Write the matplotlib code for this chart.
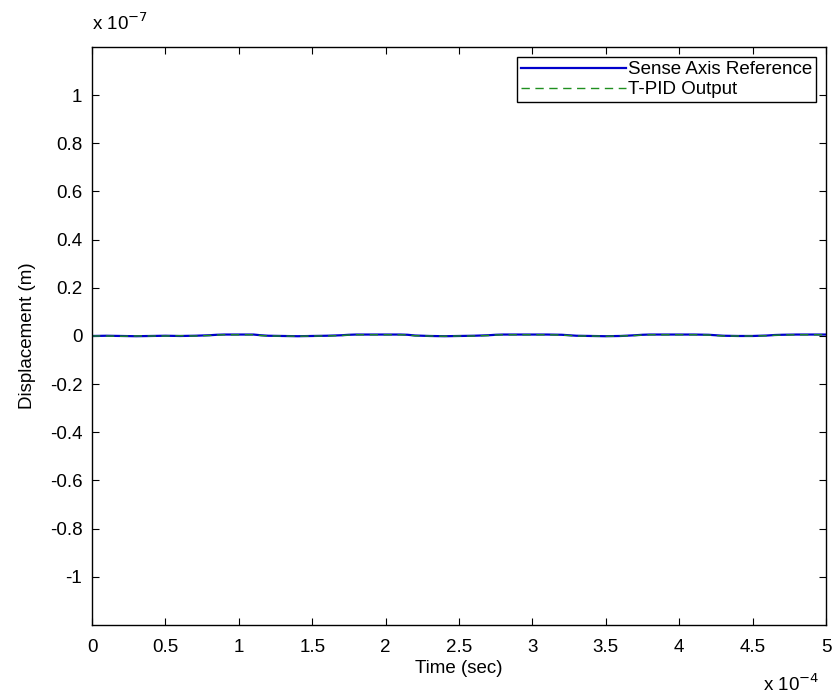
import matplotlib
matplotlib.use('Agg')
import matplotlib.pyplot as plt

plt.rcParams['font.family'] = ['Liberation Sans', 'DejaVu Sans']

# time in units of 1e-4 s, displacement in units of 1e-7 m
time_e4 = [0.0, 0.1, 0.2, 0.3, 0.4, 0.5, 0.6, 0.7, 0.8, 0.85, 0.9, 1.0, 1.1, 1.15,
           1.2, 1.3, 1.4, 1.5, 1.6, 1.7, 1.75, 1.8, 1.9, 2.0, 2.1, 2.15, 2.2,
           2.3, 2.4, 2.5, 2.6, 2.7, 2.75, 2.8, 2.9, 3.0, 3.1, 3.2, 3.25, 3.3,
           3.4, 3.5, 3.6, 3.7, 3.75, 3.8, 3.9, 4.0, 4.1, 4.2, 4.25, 4.3, 4.4,
           4.5, 4.6, 4.65, 4.7, 4.8, 4.9, 5.0]
reference_e7 = [0.0, 0.001, 0.0, -0.001, 0.0, 0.001, 0.0, 0.001, 0.003, 0.005, 0.006, 0.006,
                0.006, 0.003, 0.001, 0.0, -0.001, 0.0, 0.001, 0.003, 0.005, 0.006, 0.006,
                0.006, 0.006, 0.005, 0.002, 0.0, -0.001, 0.0, 0.001, 0.003, 0.005, 0.006,
                0.006, 0.006, 0.006, 0.005, 0.003, 0.001, 0.0, -0.001, 0.0, 0.003, 0.005,
                0.006, 0.006, 0.006, 0.006, 0.005, 0.003, 0.001, 0.0, 0.0, 0.002, 0.004,
                0.005, 0.006, 0.006, 0.006]
tpid_e7 = [0.0, 0.0, -0.001, 0.0, 0.0, 0.0, 0.001, 0.0, 0.002, 0.004, 0.005, 0.005,
           0.005, 0.002, 0.0, 0.0, -0.001, 0.0, 0.0, 0.002, 0.004, 0.005, 0.005,
           0.005, 0.005, 0.004, 0.001, 0.0, -0.001, 0.0, 0.0, 0.002, 0.004, 0.005,
           0.005, 0.005, 0.005, 0.004, 0.002, 0.0, 0.0, -0.001, 0.0, 0.002, 0.004,
           0.005, 0.005, 0.005, 0.005, 0.004, 0.002, 0.0, 0.0, 0.0, 0.001, 0.003,
           0.004, 0.005, 0.005, 0.005]

xticks = [0, 0.5, 1, 1.5, 2, 2.5, 3, 3.5, 4, 4.5, 5]
xtick_labels = ['0', '0.5', '1', '1.5', '2', '2.5', '3', '3.5', '4', '4.5', '5']
yticks = [-1, -0.8, -0.6, -0.4, -0.2, 0, 0.2, 0.4, 0.6, 0.8, 1]
ytick_labels = ['-1', '-0.8', '-0.6', '-0.4', '-0.2', '0', '0.2', '0.4', '0.6', '0.8', '1']

fig = plt.figure(figsize=(8.32, 6.98), dpi=100)
ax = fig.add_axes([0.1106, 0.1046, 0.8822, 0.8281])

ax.plot(time_e4, reference_e7, color='#0000cc', lw=1.6, label='Sense Axis Reference')
ax.plot(time_e4, tpid_e7, color='#1f8f1f', lw=1.0, ls=(0, (6, 4)), label='T-PID Output')

ax.set_xlim(0, 5)
ax.set_ylim(-1.2, 1.2)
ax.set_xticks(xticks)
ax.set_xticklabels(xtick_labels)
ax.set_yticks(yticks)
ax.set_yticklabels(ytick_labels)
ax.tick_params(direction='in', top=True, right=True, length=5, labelsize=13.5)
ax.tick_params(axis='x', pad=10)
ax.tick_params(axis='y', pad=7)
for s in ax.spines.values():
  s.set_linewidth(1.0)

ax.set_xlabel('Time (sec)', fontsize=13.5, labelpad=3)
ax.set_ylabel('Displacement (m)', fontsize=13.5, labelpad=10)

fig.text(0.1106, 0.952, 'x 10$^{-7}$', fontsize=13.5, ha='left', va='bottom')
fig.text(0.985, 0.004, 'x 10$^{-4}$', fontsize=13.5, ha='right', va='bottom')

leg = ax.legend(loc='upper right', fontsize=13.5, fancybox=False, framealpha=1,
                edgecolor='black', handlelength=5.6, borderaxespad=0.55,
                handletextpad=0.1, borderpad=0.2, labelspacing=0.15)
leg.get_frame().set_linewidth(1.0)

fig.savefig('out.png', dpi=100)
